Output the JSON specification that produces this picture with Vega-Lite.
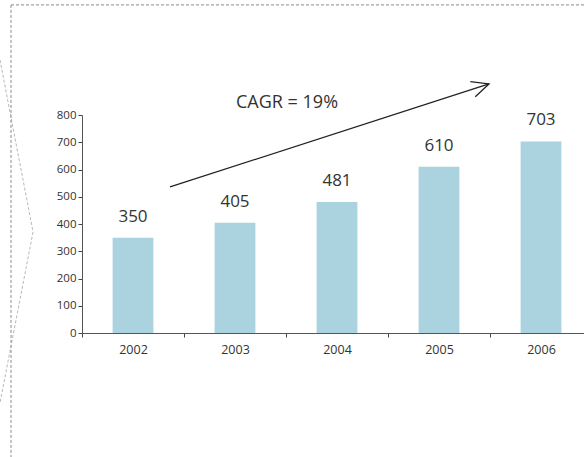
{
  "$schema": "https://vega.github.io/schema/vega-lite/v6.json",
  "autosize": {"type": "none"},
  "padding": {"left": 82, "top": 115, "right": 0, "bottom": 124},
  "width": 502,
  "height": 218,
  "config": {
    "view": {"stroke": null},
    "font": "Open Sans",
    "text": {"font": "Open Sans"}
  },
  "datasets": {
    "revenue": [
      {"year": "2002", "value": 350},
      {"year": "2003", "value": 405},
      {"year": "2004", "value": 481},
      {"year": "2005", "value": 610},
      {"year": "2006", "value": 703}
    ],
    "arrow": [
      {"x1": 0.863, "y1": 536, "x2": 3.99, "y2": 914}
    ],
    "caption": [
      {"x": 2.01, "y": 844, "label": "CAGR = 19%"}
    ],
    "frame": [
      {"part": "border", "x1": -0.696, "y1": 1204, "x2": 5.2, "y2": 1204},
      {"part": "border", "x1": -0.696, "y1": 1204, "x2": -0.696, "y2": -480},
      {"part": "chevron", "x1": -0.804, "y1": 1002, "x2": -0.48, "y2": 371},
      {"part": "chevron", "x1": -0.48, "y1": 371, "x2": -0.804, "y2": -257}
    ]
  },
  "layer": [
    {
      "data": {"name": "revenue"},
      "encoding": {
        "x": {
          "field": "year",
          "type": "ordinal",
          "scale": {"range": [0, 510], "paddingInner": 0, "paddingOuter": 0},
          "axis": {
            "title": null,
            "labelAngle": 0,
            "labelFont": "Open Sans",
            "labelFontSize": 12.5,
            "labelColor": "#333333",
            "labelDx": 6,
            "labelPadding": 6,
            "tickBand": "extent",
            "tickSize": 4,
            "tickColor": "#444444",
            "domainColor": "#555555"
          }
        },
        "y": {
          "field": "value",
          "type": "quantitative",
          "scale": {"domain": [0, 800], "nice": false},
          "axis": {
            "title": null,
            "values": [0, 100, 200, 300, 400, 500, 600, 700, 800],
            "labelOverlap": false,
            "grid": false,
            "labelFont": "Open Sans",
            "labelFontSize": 11.5,
            "labelColor": "#333333",
            "labelPadding": 2,
            "tickSize": 4,
            "tickColor": "#444444",
            "domainColor": "#555555"
          }
        }
      },
      "layer": [
        {
          "mark": {"type": "bar", "color": "#aad3df", "width": {"band": 0.4}}
        },
        {
          "mark": {"type": "text", "fontSize": 17, "color": "#333333", "baseline": "middle", "dy": -21},
          "encoding": {
            "text": {"field": "value", "type": "quantitative"}
          }
        }
      ]
    },
    {
      "layer": [
        {
          "data": {"name": "frame"},
          "transform": [{"filter": "datum.part === 'border'"}],
          "mark": {"type": "rule", "color": "#8a8a8a", "strokeWidth": 1, "strokeDash": [3, 2]},
          "encoding": {
            "x": {"field": "x1", "type": "quantitative", "scale": {"domain": [0, 5], "range": [0, 510]}, "axis": null},
            "x2": {"field": "x2"},
            "y": {"field": "y1", "type": "quantitative", "scale": {"domain": [0, 800], "nice": false}, "axis": null},
            "y2": {"field": "y2"}
          }
        },
        {
          "data": {"name": "frame"},
          "transform": [{"filter": "datum.part === 'chevron'"}],
          "mark": {"type": "rule", "color": "#a5a5a5", "strokeWidth": 0.8, "strokeDash": [3, 2]},
          "encoding": {
            "x": {"field": "x1", "type": "quantitative", "axis": null},
            "x2": {"field": "x2"},
            "y": {"field": "y1", "type": "quantitative", "axis": null},
            "y2": {"field": "y2"}
          }
        },
        {
          "data": {"name": "arrow"},
          "mark": {"type": "rule", "color": "#222222", "strokeWidth": 1.3},
          "encoding": {
            "x": {"field": "x1", "type": "quantitative", "axis": null},
            "x2": {"field": "x2"},
            "y": {"field": "y1", "type": "quantitative", "axis": null},
            "y2": {"field": "y2"}
          }
        },
        {
          "data": {"name": "arrow"},
          "mark": {
            "type": "point",
            "shape": "M -1 -0.47 L 0 0 L -1 0.47",
            "size": 1156,
            "angle": 342,
            "filled": false,
            "stroke": "#222222",
            "strokeWidth": 1.3,
            "opacity": 1
          },
          "encoding": {
            "x": {"field": "x2", "type": "quantitative", "axis": null},
            "y": {"field": "y2", "type": "quantitative", "axis": null}
          }
        },
        {
          "data": {"name": "caption"},
          "mark": {"type": "text", "fontSize": 18, "color": "#333333", "baseline": "middle", "align": "center"},
          "encoding": {
            "x": {"field": "x", "type": "quantitative", "axis": null},
            "y": {"field": "y", "type": "quantitative", "axis": null},
            "text": {"field": "label"}
          }
        }
      ]
    }
  ],
  "resolve": {"scale": {"x": "independent", "y": "independent"}}
}
